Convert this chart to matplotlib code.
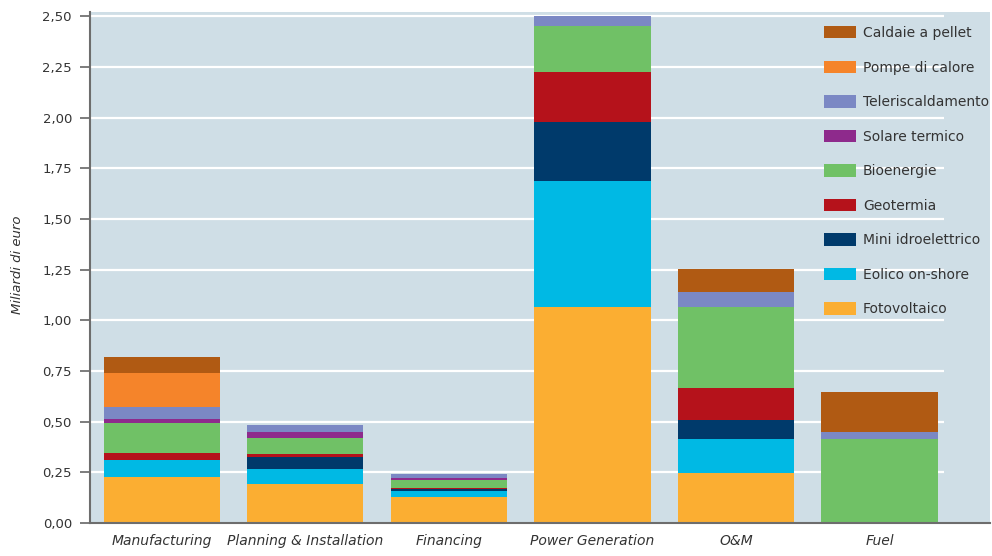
import matplotlib.pyplot as plt
import numpy as np

categories = ["Manufacturing", "Planning & Installation", "Financing",
              "Power Generation", "O&M", "Fuel"]

# series, bottom to top of stack (miliardi di euro)
fotovoltaico     = [0.225, 0.192, 0.127, 1.065, 0.248, 0.0]
eolico           = [0.086, 0.073, 0.029, 0.621, 0.165, 0.0]
mini_idro        = [0.0,   0.059, 0.012, 0.293, 0.095, 0.0]
geotermia        = [0.036, 0.015, 0.004, 0.246, 0.156, 0.0]
bioenergie       = [0.148, 0.079, 0.039, 0.227, 0.400, 0.413]
solare_termico   = [0.016, 0.032, 0.010, 0.0,   0.0,   0.0]
teleriscaldamento = [0.062, 0.033, 0.023, 0.048, 0.074, 0.037]
pompe_calore     = [0.165, 0.0,   0.0,   0.0,   0.0,   0.0]
caldaie_pellet   = [0.082, 0.0,   0.0,   0.0,   0.114, 0.197]

series_names = ["Fotovoltaico", "Eolico on-shore", "Mini idroelettrico",
                "Geotermia", "Bioenergie", "Solare termico",
                "Teleriscaldamento", "Pompe di calore", "Caldaie a pellet"]
series = [fotovoltaico, eolico, mini_idro, geotermia, bioenergie,
          solare_termico, teleriscaldamento, pompe_calore, caldaie_pellet]

colors = ["#fbae32", "#00b9e4", "#003a6b", "#b5121b", "#70c166",
          "#8e2a8c", "#7b88c4", "#f5842a", "#b05a13"]

yticks = [0.0, 0.25, 0.5, 0.75, 1.0, 1.25, 1.5, 1.75, 2.0, 2.25, 2.5]
ytick_labels = ["0,00", "0,25", "0,50", "0,75", "1,00", "1,25",
                "1,50", "1,75", "2,00", "2,25", "2,50"]

BG = "#cfdee6"
TXT = "#333333"

fig = plt.figure(figsize=(9.92, 5.56), dpi=100)
ax = fig.add_axes([0.0907, 0.0594, 0.9073, 0.9186])
ax.set_facecolor(BG)

x = np.arange(len(categories))
ax.set_xlim(-0.5, 5.77)
ax.set_ylim(0, 2.52)

# gridlines stop before the right edge
ax.hlines(yticks[1:], -0.5, 5.45, colors="white", linewidth=1.6, zorder=1)

bottom = np.zeros(len(categories))
handles = []
for name, vals, c in zip(series_names, series, colors):
    vals = np.array(vals)
    b = ax.bar(x, vals, bottom=bottom, width=0.81, color=c,
               label=name, zorder=2, linewidth=0)
    handles.append(b)
    bottom += vals

ax.set_yticks(yticks)
ax.set_yticklabels(ytick_labels, fontsize=9.5, color=TXT)
ax.set_xticks(x)
ax.set_xticklabels(categories, fontsize=10, style="italic", color=TXT)
ax.tick_params(axis="x", length=0, pad=8)
ax.tick_params(axis="y", length=7, width=1.2, color="#666666", pad=6)

for side in ["top", "right"]:
    ax.spines[side].set_visible(False)
for side in ["left", "bottom"]:
    ax.spines[side].set_color("#6d6d6d")
    ax.spines[side].set_linewidth(1.5)

fig.text(0.018, 0.523, "Miliardi di euro", rotation=90, ha="center",
         va="center", fontsize=9.5, style="italic", color=TXT)

leg = ax.legend(handles[::-1], series_names[::-1], loc="upper left",
                bbox_to_anchor=(824 / 992, 1 - 26 / 556),
                bbox_transform=fig.transFigure, frameon=False,
                fontsize=10, handlelength=2.3, handleheight=1.0,
                labelspacing=1.48, handletextpad=0.5, borderpad=0,
                borderaxespad=0)
for t in leg.get_texts():
    t.set_color(TXT)

fig.savefig("out.png", dpi=100, facecolor="white")
